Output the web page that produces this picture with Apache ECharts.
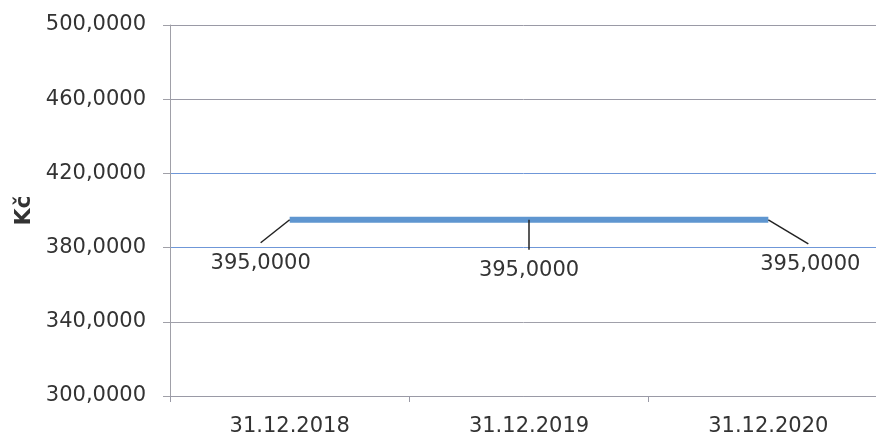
<!DOCTYPE html>
<html>
<head>
<meta charset="utf-8">
<script src="https://cdn.jsdelivr.net/npm/echarts@6/dist/echarts.min.js"></script>
<style>
  html, body { margin: 0; padding: 0; background: #fff; }
  #chart { width: 876px; height: 441px; }
</style>
</head>
<body>
<div id="chart"></div>
<script>
// data
var categories = ['31.12.2018', '31.12.2019', '31.12.2020'];
var values = [395, 395, 395];
var yMin = 300, yMax = 500, yStep = 40;

// leader line end and label centre, in px relative to each point
var leaderEnd = [[-29, 23], [0, 30], [40, 24]];
var labelAt = [[-29, 44], [0, 51], [42, 45]];

function fmt(v) {
	return v.toFixed(4).replace('.', ',');
}

var chart = echarts.init(document.getElementById('chart'));

chart.setOption({
	animation: false,
	textStyle: { fontFamily: 'DejaVu Sans' },
	grid: {
		left: 170,
		top: 25,
		width: 718,
		height: 371,
		containLabel: false,
		outerBoundsMode: 'none'
	},
	xAxis: [{
		type: 'category',
		data: categories,
		boundaryGap: true,
		axisLine: { show: true, lineStyle: { color: '#9a9aa6', width: 1 } },
		axisTick: { show: true, length: 6, lineStyle: { color: '#9a9aa6' } },
		axisLabel: { color: '#333', fontSize: 21, margin: 20 }
	}],
	yAxis: [{
		type: 'value',
		min: yMin,
		max: yMax,
		interval: yStep,
		name: 'Kč',
		nameLocation: 'middle',
		nameGap: 117,
		nameRotate: 90,
		nameTextStyle: { color: '#333', fontSize: 22, fontWeight: 'bold' },
		axisLine: { show: true, lineStyle: { color: '#a0a0a8', width: 1 } },
		axisTick: { show: true, length: 7, lineStyle: { color: '#a0a0a8' } },
		axisLabel: {
			color: '#333',
			fontSize: 21,
			margin: 24,
			formatter: fmt
		},
		splitLine: {
			show: true,
			lineStyle: {
				color: ['#a0a0aa', '#a0a0aa', '#6f97d8', '#6f97d8', '#9a9aa6', '#9a9aa6'],
				width: 1
			}
		}
	}],
	series: [{
		type: 'line',
		data: values,
		symbol: 'none',
		lineStyle: { color: '#5f96d0', width: 6 },
		z: 3
	}, {
		// data labels with leader lines
		type: 'custom',
		data: values.map(function (v, i) { return [i, v]; }),
		encode: { x: 0, y: 1 },
		z: 4,
		renderItem: function (params, api) {
			var i = params.dataIndex;
			var pt = api.coord([api.value(0), api.value(1)]);
			var e = leaderEnd[i], t = labelAt[i];
			return {
				type: 'group',
				children: [{
					type: 'line',
					shape: { x1: pt[0], y1: pt[1], x2: pt[0] + e[0], y2: pt[1] + e[1] },
					style: { stroke: '#222', lineWidth: 1.5 }
				}, {
					type: 'text',
					x: pt[0] + t[0],
					y: pt[1] + t[1],
					style: {
						text: fmt(api.value(1)),
						fill: '#333',
						font: '21px "DejaVu Sans"',
						align: 'center',
						verticalAlign: 'middle'
					}
				}]
			};
		}
	}]
});
</script>
</body>
</html>
